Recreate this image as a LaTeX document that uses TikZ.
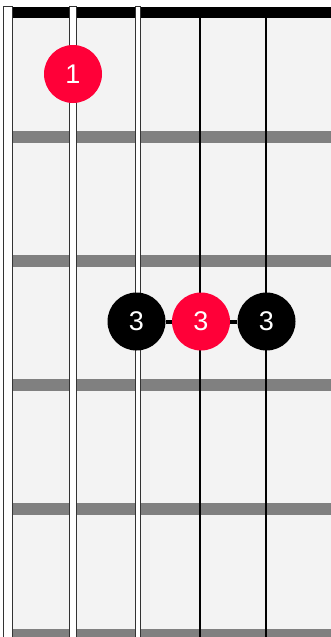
\documentclass[tikz,border=0pt]{standalone}
\usepackage{fontspec}
\setmainfont{Liberation Sans}
\usepackage{tikz}
\usetikzlibrary{positioning}
\definecolor{boardgray}{HTML}{F3F3F3}
\definecolor{fretgray}{HTML}{808080}
\definecolor{stringgray}{HTML}{333333}
\definecolor{rootred}{HTML}{FF0038}
\tikzset{
  line cap=butt,
  fret/.style={draw=none, fill=fretgray},
  nut/.style={draw=none, fill=black},
  wound/.style={draw=stringgray, fill=white, line width=1.4pt},
  plain/.style={draw=black, line width=2pt},
  dot/.style={circle, minimum size=58pt, inner sep=0pt, text=white, font=\fontsize{27}{27}\selectfont},
  reddot/.style={dot, fill=rootred},
  blackdot/.style={dot, fill=black},
  barre/.style={draw=black, line width=4pt}
}

\begin{document}
\begin{tikzpicture}[x=1pt, y=-1pt]
  \useasboundingbox (0,0) rectangle (331,637);
  \fill[white] (0,0) rectangle (331,637);
  \fill[boardgray] (13,18) rectangle (331,637);

  % frets
  \foreach \y in {131,255,379,503,629}
    \fill[fret] (13,\y) rectangle (331,\y+11.5);

  % nut
  \fill[nut] (13,6.7) rectangle (331,18.3);

  % plain strings
  \foreach \x in {200,266}
    \draw[plain] (\x,18) -- (\x,637);

  % wound strings
  \foreach \l/\r in {3/13,69/77,135/141}
    \draw[wound] (\l+0.7,6.7) rectangle (\r-0.7,640);

  % finger dots
  \node[reddot] (f1) at (73,74) {1};
  \node[blackdot] (g3) at (136.5,321.5) {3};
  \node[reddot] (r4) at (201,321.5) {3};
  \node[blackdot] (g5) at (266.5,321.5) {3};

  \draw[barre] (g3) -- (r4);
  \draw[barre] (r4) -- (g5);
\end{tikzpicture}
\end{document}
